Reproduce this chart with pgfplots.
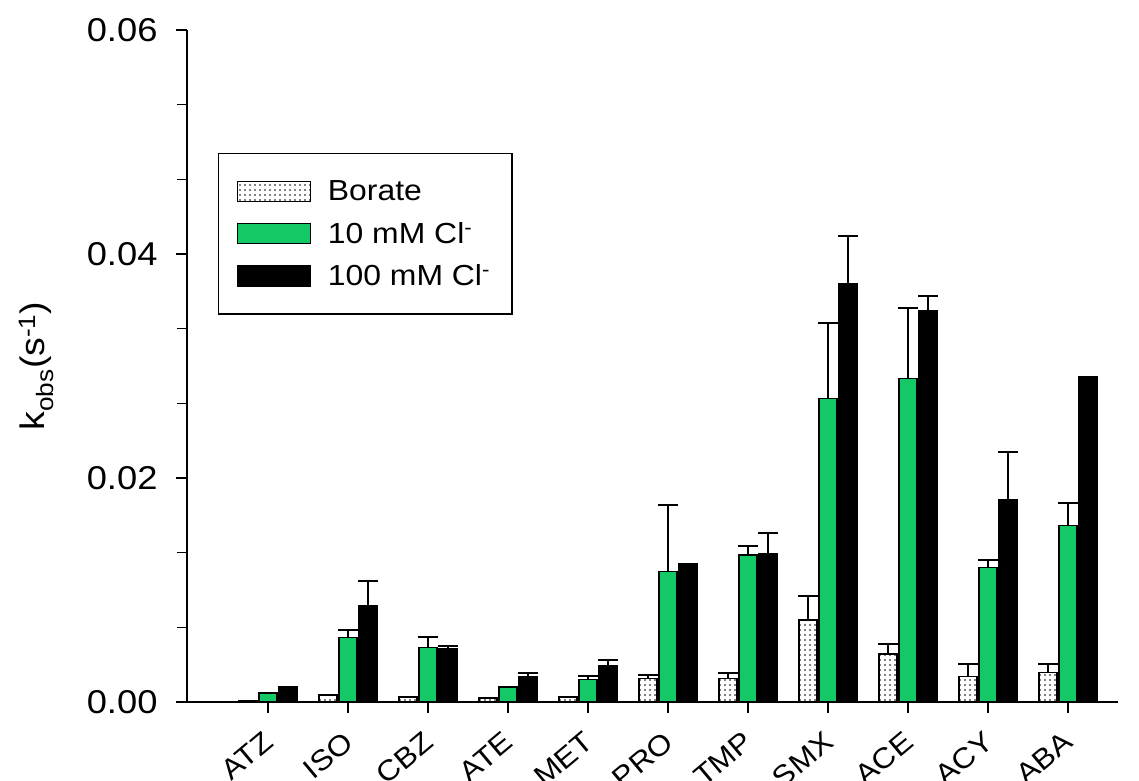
\documentclass[border=0pt]{standalone}
\usepackage{pgfplots}
\pgfplotsset{compat=1.18}
\usepackage{pgfplotstable}
\usetikzlibrary{patterns.meta}
\usepackage{fontspec}
\setmainfont{Liberation Sans}[FakeStretch=1.1]
\definecolor{mygreen}{RGB}{18,201,101}

\pgfplotstableread{
x b be g ge k ke
0 0.00005 0 0.00077 0 0.00131 0
1 0.00065 0 0.00577 0.00063 0.00857 0.00226
2 0.00048 0 0.00488 0.00095 0.00479 0.00024
3 0.00033 0 0.00137 0 0.00226 0.00036
4 0.00048 0 0.00202 0.00033 0.00327 0.00048
5 0.00208 0.00033 0.01164 0.00592 0.01232 0
6 0.00211 0.00045 0.01313 0.00080 0.01321 0.00185
7 0.00732 0.00214 0.02711 0.00676 0.03738 0.00426
8 0.00429 0.00086 0.02890 0.00625 0.03494 0.00131
9 0.00226 0.00113 0.01199 0.00069 0.01810 0.00420
10 0.00265 0.00071 0.01577 0.00197 0.02905 0
}\datatable

\begin{document}
\begin{tikzpicture}
\useasboundingbox (-187pt,-78pt) rectangle (952pt,702pt);
\begin{axis}[
  at={(0pt,0pt)}, anchor=south west,
  scale only axis, width=931pt, height=672pt,
  xmin=-1.0125, xmax=10.625, ymin=0, ymax=0.06,
  axis x line=bottom, axis y line=left,
  axis line style={-, line width=1.6pt},
  ybar=2pt, bar width=18pt,
  xtick={0,...,10},
  xticklabels={ATZ,ISO,CBZ,ATE,MET,PRO,TMP,SMX,ACE,ACY,ABA},
  ytick={0,0.02,0.04,0.06}, minor y tick num=2,
  tick align=outside, major tick length=11pt, minor tick length=10pt,
  every tick/.style={line width=1.6pt, black},
  /pgf/number format/assume math mode=true,
  yticklabel={\pgfmathprintnumber[fixed,fixed zerofill,precision=2,assume math mode=true]{\tick}},
  yticklabel style={font=\fontsize{33}{40}\selectfont, xshift=-15pt},
  scaled y ticks=false,
  xticklabel style={rotate=40, anchor=north east, font=\fontsize{28.5}{34}\selectfont, xshift=-12pt, yshift=-6pt},
  ylabel={k\textsubscript{obs}(s\textsuperscript{-1})},
  ylabel style={font=\fontsize{34}{40}\selectfont, at={(axis description cs:-0.1617,0.5)}, anchor=center},
  legend style={at={(0.0333,0.817)}, anchor=north west, draw=black, line width=1.4pt,
    font=\fontsize{29}{34}\selectfont, inner xsep=18pt, inner ysep=23pt, row sep=12pt,
    nodes={inner sep=4pt}},
  legend cell align=left,
  legend image code/.code={\draw[#1, line width=1.2pt] (0pt,-10pt) rectangle (73pt,10pt);},
  legend style={/tikz/every odd column/.append style={column sep=13pt}},
  error bars/y dir=plus, error bars/y explicit,
  error bars/error bar style={line width=2pt, black},
  error bars/error mark options={rotate=90, line width=2pt, mark size=10pt, black},
]
\addplot[draw=black, line width=1.2pt, fill=white, postaction={pattern={Dots[distance=5pt,radius=0.8pt]}}]
  table[x=x, y=b, y error=be]{\datatable};
\addplot[draw=black, line width=1.2pt, fill=mygreen]
  table[x=x, y=g, y error=ge]{\datatable};
\addplot[draw=black, line width=1.2pt, fill=black]
  table[x=x, y=k, y error=ke]{\datatable};
\legend{Borate, 10 mM Cl\textsuperscript{-}, 100 mM Cl\textsuperscript{-}}
\end{axis}
\end{tikzpicture}
\end{document}
